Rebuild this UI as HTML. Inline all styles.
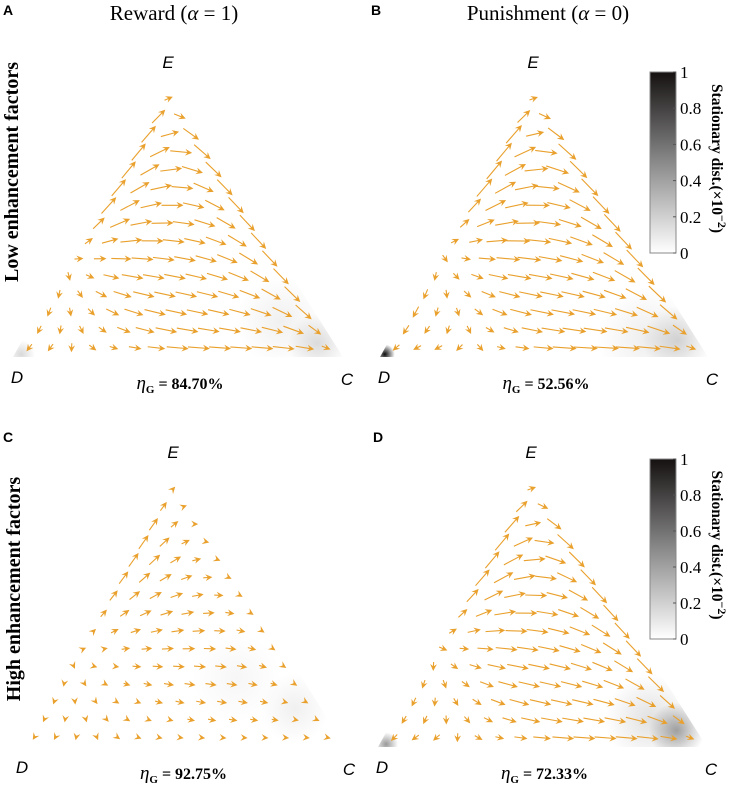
<!DOCTYPE html>
<html><head><meta charset="utf-8">
<style>
html,body{margin:0;padding:0;background:#fff;}
svg{display:block;}
</style></head>
<body>
<svg id="fig" width="736" height="801" viewBox="0 0 736 801" xmlns="http://www.w3.org/2000/svg">
<defs>
<linearGradient id="cbgrad" x1="0" y1="1" x2="0" y2="0">
<stop offset="0" stop-color="#ffffff"/><stop offset="0.5" stop-color="#8a8a8a"/><stop offset="1" stop-color="#151111"/>
</linearGradient>
<radialGradient id="blob"><stop offset="0" stop-color="#000" stop-opacity="1"/><stop offset="1" stop-color="#000" stop-opacity="0"/></radialGradient>
</defs>
<g font-family="Liberation Sans, sans-serif" font-weight="bold" font-size="14">
<text x="3" y="15">A</text>
<text x="371" y="15">B</text>
<text x="3" y="442">C</text>
<text x="373" y="442">D</text>
</g>
<g font-family="Liberation Serif, serif" font-size="21" text-anchor="middle">
<text x="174" y="20">Reward (<tspan font-style="italic">α</tspan> = 1)</text>
<text x="548" y="20">Punishment (<tspan font-style="italic">α</tspan> = 0)</text>
</g>
<g font-family="Liberation Serif, serif" font-size="20" font-weight="bold" text-anchor="middle">
<text transform="translate(18,172) rotate(-90)">Low enhancement factors</text>
<text transform="translate(20,589) rotate(-90)">High enhancement factors</text>
</g>
<g id="panels"></g>
</svg>
<script>
// Panel geometry: vertices D, C, E
const panelIds = ['a','b','c','d'];
const vertD = [[13,357],[380,357],[18,747],[378,747]];
const vertC = [[343,357],[708,357],[345,747],[707,747]];
const vertE = [[168,80],[533,80],[173,470],[531,470]];
const etaValues = ['84.70%','52.56%','92.75%','72.33%'];
const hasColorbar = [false,true,false,true];
// Payoff matrices (rows D,C,E focal; cols D,C,E opponent)
const payoffA = [[1,1.2,0.9],[0.8,2,2.6],[0.4,1.5,2.0]];
const payoffB = [[1,1.1,1.0],[0.6,2,2.6],[0.35,1.5,2.0]];
const payoffC = [[1,1.3,0.9],[0.9,1.6,2.2],[0.45,1.5,2.0]];
const payoffD = [[1,1.2,1.0],[0.7,2,2.6],[0.4,1.5,2.0]];
const payoffs = [payoffA,payoffB,payoffC,payoffD];
const arrowScale = [80,85,45,75];
const arrowMin = [9,9,5,9];
const arrowMax = [22,24,24,22];
// Density blobs: [wD, wC, wE, radius px, opacity]
const densityA = [[0.05,0.9,0.05,30,0.14],[0.12,0.75,0.13,45,0.06],[0.97,0.02,0.01,14,0.15]];
const densityB = [[0.98,0.01,0.01,10,0.95],[0.06,0.88,0.06,35,0.16],[0.15,0.78,0.07,50,0.07]];
const densityC = [[0.08,0.78,0.14,35,0.06],[0.2,0.55,0.25,45,0.035]];
const densityD = [[0.06,0.88,0.06,28,0.35],[0.12,0.78,0.1,45,0.12],[0.97,0.02,0.01,12,0.4]];
const densities = [densityA,densityB,densityC,densityD];
const cbTicks = [0,0.2,0.4,0.6,0.8,1];
const cbTickLabels = ['0','0.2','0.4','0.6','0.8','1'];
const cbBox = [[650,72,676,253],[650,459,676,639]];
const GRID = 14;
const NS='http://www.w3.org/2000/svg';
const root=document.getElementById('panels');
function mk(tag,attrs,parent){const e=document.createElementNS(NS,tag);for(const k in attrs)e.setAttribute(k,attrs[k]);(parent||root).appendChild(e);return e;}
function toXY(p,w){return [w[0]*vertD[p][0]+w[1]*vertC[p][0]+w[2]*vertE[p][0], w[0]*vertD[p][1]+w[1]*vertC[p][1]+w[2]*vertE[p][1]];}
function vel(M,x){const f=[0,0,0];for(let i=0;i<3;i++)for(let j=0;j<3;j++)f[i]+=M[i][j]*x[j];const avg=x[0]*f[0]+x[1]*f[1]+x[2]*f[2];return x.map((xi,i)=>xi*(f[i]-avg));}
panelIds.forEach((id,p)=>{
  const g=mk('g',{});
  
  
  const clip=mk('clipPath',{id:'clip'+id},g);
  mk('polygon',{points:[vertD[p],vertC[p],vertE[p]].map(v=>v.join(',')).join(' ')},clip);
  const dg=mk('g',{'clip-path':'url(#clip'+id+')'},g);
  
  
  densities[p].forEach(b=>{const c=toXY(p,b);const el=mk('circle',{cx:c[0],cy:c[1],r:b[3],fill:'url(#blob)',opacity:b[4]},dg);
    
    });
  const ag=mk('g',{stroke:'#e9a02c',fill:'#e9a02c','stroke-width':1.1},g);
  
  
  for(let k=0;k<=GRID;k++){for(let i=0;i<=GRID-k;i++){
    let e=k/GRID, cc=i/GRID, d=1-e-cc;
    const s=0.9; e=e*s+(1-s)/3; cc=cc*s+(1-s)/3; d=d*s+(1-s)/3;
    const x=[d,cc,e]; const v=vel(payoffs[p],x);
    const p0=toXY(p,x);
    const dx=v[0]*vertD[p][0]+v[1]*vertC[p][0]+v[2]*vertE[p][0];
    const dy=v[0]*vertD[p][1]+v[1]*vertC[p][1]+v[2]*vertE[p][1];
    const m=Math.hypot(dx,dy)||1e-9; const L=Math.min(arrowMax[p],Math.max(arrowMin[p],m*arrowScale[p]/100));
    const ux=dx/m,uy=dy/m; const sx=p0[0]-ux*L/2, sy=p0[1]-uy*L/2, ex=p0[0]+ux*L/2, ey=p0[1]+uy*L/2;
    const a=mk('g',{},ag);
    
    
    if(L>7) mk('line',{x1:sx,y1:sy,x2:ex-ux*3,y2:ey-uy*3},a);
    const bx=ex-ux*7, by=ey-uy*7, nx=-uy*3.4, ny=ux*3.4;
    mk('polygon',{points:`${ex},${ey} ${bx+nx},${by+ny} ${ex-ux*4.5},${ey-uy*4.5} ${bx-nx},${by-ny}`,stroke:'none'},a);
  }}
  const lg=mk('g',{'font-family':'Liberation Sans, sans-serif','font-style':'italic','font-size':17,'text-anchor':'middle'},g);
  const tE=mk('text',{x:vertE[p][0],y:vertE[p][1]-12},lg);tE.textContent='E';
  
  
  const tD=mk('text',{x:vertD[p][0]+4,y:vertD[p][1]+26},lg);tD.textContent='D';
  
  
  const tC=mk('text',{x:vertC[p][0]+4,y:vertC[p][1]+28},lg);tC.textContent='C';
  
  
  const cx=(vertD[p][0]+vertC[p][0])/2+2;
  const et=mk('text',{x:cx,y:vertD[p][1]+32,'text-anchor':'middle','font-family':'Liberation Serif, serif','font-size':16},g);
  
  
  et.innerHTML='<tspan font-style="italic" font-size="19">η</tspan><tspan font-size="11" dy="4" font-weight="bold">G</tspan><tspan dy="-4" font-weight="bold"> = '+etaValues[p]+'</tspan>';
});
let cbi=0;
hasColorbar.forEach((has,p)=>{ if(!has) return; const b=cbBox[cbi++];
  const g=mk('g',{});
  
  
  mk('rect',{x:b[0],y:b[1],width:b[2]-b[0],height:b[3]-b[1],fill:'url(#cbgrad)',stroke:'#888','stroke-width':1},g);
  const tg=mk('g',{'font-family':'Liberation Serif, serif','font-size':17},g);
  cbTicks.forEach((t,i)=>{const y=b[3]-t*(b[3]-b[1]);
    mk('line',{x1:b[2]-3,x2:b[2],y1:y,y2:y,stroke:'#555'},g);
    const tx=mk('text',{x:b[2]+4,y:y+6},tg);tx.textContent=cbTickLabels[i];
    
    });
  const ty=(b[1]+b[3])/2-4;
  const tt=mk('text',{transform:`translate(${b[2]+36},${ty}) rotate(90)`,'text-anchor':'middle','font-family':'Liberation Serif, serif','font-size':15.5,'font-weight':'bold'},g);
  
  
  tt.innerHTML='Stationary dist.(×10<tspan dy="-6" font-size="12">−2</tspan><tspan dy="6">)</tspan>';
});
</script>
</body></html>
